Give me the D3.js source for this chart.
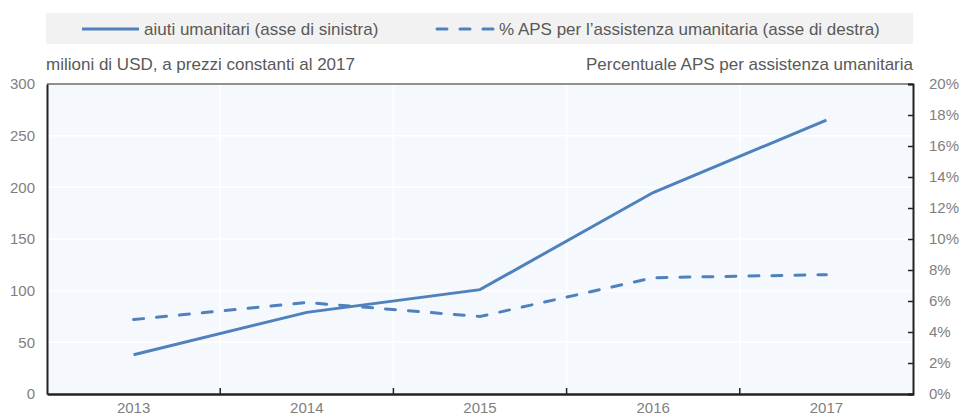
<!DOCTYPE html>
<html>
<head>
<meta charset="utf-8">
<script src="https://cdn.jsdelivr.net/npm/d3@7"></script>
<style>
  body { margin: 0; background: #fff; }
  text { font-family: "Liberation Sans Narrow", "Arial Narrow", "Liberation Sans", sans-serif; }
</style>
</head>
<body>
<div id="chart"></div>
<script>
// data
let years = ["2013", "2014", "2015", "2016", "2017"];
let aiuti = [38, 79, 101, 195, 265];        // milioni USD, asse sinistro
let quotaAPS = [4.8, 5.9, 5.0, 7.5, 7.7];     // %, asse destro
let leftTicks = [0, 50, 100, 150, 200, 250, 300];
let rightTicks = [0, 2, 4, 6, 8, 10, 12, 14, 16, 18, 20];

let width = 960, height = 416;
let margin = {top: 84, right: 47, bottom: 22, left: 47};
let blue = "#4f81bd";
let grey = "#7f7f7f";
let textCol = "#595959";
let dash = "10,13";

let svg = d3.select("#chart").append("svg")
  .attr("width", width)
  .attr("height", height);

let x = d3.scaleBand()
  .domain(years)
  .range([margin.left, width - margin.right]);

let yL = d3.scaleLinear().domain([0, 300]).range([height - margin.bottom, margin.top]);
let yR = d3.scaleLinear().domain([0, 20]).range([height - margin.bottom, margin.top]);

// legend box
let legend = svg.append("g");
legend.append("rect")
  .attr("x", 46).attr("y", 13)
  .attr("width", 867).attr("height", 31)
  .attr("fill", "#f2f2f2");
legend.append("line")
  .attr("x1", 82).attr("x2", 139).attr("y1", 29).attr("y2", 29)
  .attr("stroke", blue).attr("stroke-width", 3);
legend.append("text")
  .attr("x", 144).attr("y", 35)
  .attr("font-size", 17).attr("fill", textCol)
  .text("aiuti umanitari (asse di sinistra)");
legend.append("line")
  .attr("x1", 437).attr("x2", 493).attr("y1", 29).attr("y2", 29)
  .attr("stroke", blue).attr("stroke-width", 3)
  .attr("stroke-linecap", "round")
  .attr("stroke-dasharray", dash);
legend.append("text")
  .attr("x", 499).attr("y", 35)
  .attr("font-size", 17).attr("fill", textCol)
  .text("% APS per l\u2019assistenza umanitaria (asse di destra)");

// axis titles
svg.append("text")
  .attr("x", 46).attr("y", 70)
  .attr("font-size", 17).attr("fill", textCol)
  .text("milioni di USD, a prezzi constanti al 2017");
svg.append("text")
  .attr("x", 913).attr("y", 70)
  .attr("text-anchor", "end")
  .attr("font-size", 17).attr("fill", textCol)
  .text("Percentuale APS per assistenza umanitaria");

// plot background
svg.append("rect")
  .attr("x", margin.left).attr("y", margin.top)
  .attr("width", width - margin.left - margin.right)
  .attr("height", height - margin.top - margin.bottom)
  .attr("fill", "#f5f9fe");

// gridlines
svg.append("g").selectAll("line")
  .data(leftTicks.slice(1))
  .join("line")
  .attr("x1", margin.left).attr("x2", width - margin.right)
  .attr("y1", d => yL(d)).attr("y2", d => yL(d))
  .attr("stroke", "#fff").attr("stroke-width", 1.5);

svg.append("g").selectAll("line")
  .data(years.slice(1))
  .join("line")
  .attr("x1", d => x(d)).attr("x2", d => x(d))
  .attr("y1", margin.top).attr("y2", height - margin.bottom)
  .attr("stroke", "#fff").attr("stroke-width", 1.5);

// top border (thin)
svg.append("line")
  .attr("x1", margin.left).attr("x2", width - margin.right)
  .attr("y1", margin.top).attr("y2", margin.top)
  .attr("stroke", "#222").attr("stroke-width", 1);

// left axis
let axL = svg.append("g")
  .attr("transform", `translate(${margin.left},0)`)
  .call(d3.axisLeft(yL).tickValues(leftTicks).tickSize(0).tickPadding(12));
axL.select(".domain").attr("stroke", "#222").attr("stroke-width", 2);
axL.selectAll("text").attr("font-size", 15).attr("fill", grey)
  .attr("font-family", "Liberation Sans Narrow, Arial Narrow, sans-serif");

// right axis, ticks pointing inside
let axR = svg.append("g")
  .attr("transform", `translate(${width - margin.right},0)`)
  .call(d3.axisRight(yR).tickValues(rightTicks).tickSize(-5).tickPadding(16)
    .tickFormat(d => d + "%"));
axR.select(".domain").attr("stroke", "#222").attr("stroke-width", 2);
axR.selectAll(".tick line").attr("stroke", "#222").attr("stroke-width", 1.5);
axR.selectAll("text").attr("font-size", 15).attr("fill", grey)
  .attr("font-family", "Liberation Sans Narrow, Arial Narrow, sans-serif");

// bottom axis: category labels, ticks on band boundaries
let axB = svg.append("g")
  .attr("transform", `translate(0,${height - margin.bottom})`)
  .call(d3.axisBottom(x).tickSize(0).tickPadding(8));
axB.select(".domain").attr("stroke", "#222").attr("stroke-width", 2.5);
axB.selectAll("text").attr("font-size", 15).attr("fill", grey)
  .attr("font-family", "Liberation Sans Narrow, Arial Narrow, sans-serif");
svg.append("g").selectAll("line")
  .data(years.slice(1))
  .join("line")
  .attr("x1", d => x(d)).attr("x2", d => x(d))
  .attr("y1", height - margin.bottom).attr("y2", height - margin.bottom - 6)
  .attr("stroke", "#222").attr("stroke-width", 1.5);

// lines
let lineL = d3.line()
  .x((d, i) => x(years[i]) + x.bandwidth() / 2)
  .y(d => yL(d));
let lineR = d3.line()
  .x((d, i) => x(years[i]) + x.bandwidth() / 2)
  .y(d => yR(d));

svg.append("path")
  .datum(quotaAPS)
  .attr("d", lineR)
  .attr("fill", "none")
  .attr("stroke", blue).attr("stroke-width", 3)
  .attr("stroke-linecap", "round")
  .attr("stroke-dasharray", dash);

svg.append("path")
  .datum(aiuti)
  .attr("d", lineL)
  .attr("fill", "none")
  .attr("stroke", blue).attr("stroke-width", 3);
</script>
</body>
</html>
